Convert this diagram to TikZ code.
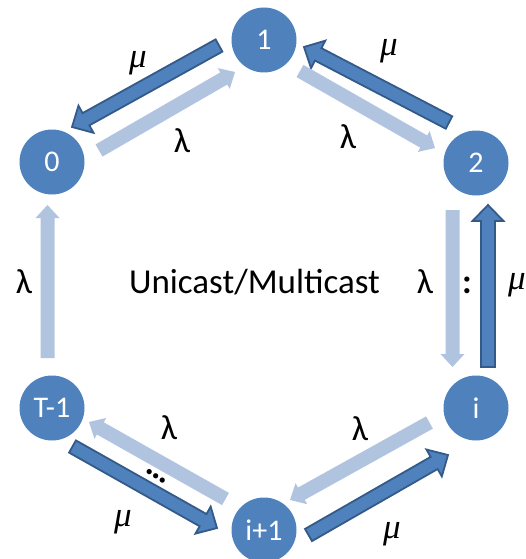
\documentclass[tikz,border=0pt]{standalone}
\usepackage{fontspec}
\setmainfont{Carlito}
\newfontfamily\muf{Liberation Serif}
\usetikzlibrary{calc}
\definecolor{nodeblue}{RGB}{79,129,189}
\definecolor{mudark}{RGB}{52,90,138}
\definecolor{lam}{RGB}{176,196,224}
% #1 style, #2 start, #3 end, #4 shaft half width, #5 head half width, #6 head length
\newcommand\blockarrow[6]{%
  \coordinate (ba-c) at ($(#3)!#6!(#2)$);
  \draw[#1] ($(#2)!#4!90:(#3)$) -- ($(ba-c)!#4!90:(#3)$) -- ($(ba-c)!#5!90:(#3)$) -- (#3)
    -- ($(ba-c)!#5!-90:(#3)$) -- ($(ba-c)!#4!-90:(#3)$) -- ($(#2)!#4!-90:(#3)$) -- cycle;
}
\newcommand\lamarr[2]{\blockarrow{lamarrow}{#1}{#2}{7pt}{12pt}{13pt}}
\newcommand\muarr[2]{\blockarrow{muarrow}{#1}{#2}{7pt}{15.5pt}{16pt}}
\begin{document}
\begin{tikzpicture}[x=1pt,y=1pt,
  state/.style={circle,fill=nodeblue,minimum size=65pt,inner sep=0pt,text=white,
    font=\fontsize{30}{32}\selectfont},
  lbl/.style={font=\fontsize{35}{40}\selectfont,inner sep=0pt,anchor=base},
  mul/.style={font=\muf\itshape\fontsize{35}{40}\selectfont,inner sep=0pt},
  lamarrow/.style={fill=lam,draw=none},
  muarrow/.style={fill=nodeblue,draw=mudark,line width=1.8pt,line join=miter}]
\useasboundingbox (0,0) rectangle (526,-559);

\node[state] (n1) at (264,-40) {1};
\node[state] (n0) at (52,-162) {0};
\node[state] (n2) at (476,-163) {2};
\node[state] (nT) at (52,-408) {T-1};
\node[state] (ni) at (476,-408) {i};
\node[state] (nip) at (264,-530) {i+1};

% arrow end points
\coordinate (a1s) at ($(n1)+(-45,-5.5)$);  \coordinate (a1e) at ($(n0)+(20,35)$);
\coordinate (a2s) at ($(n0)+(47,11.5)$);   \coordinate (a2e) at ($(n1)+(-29,-32)$);
\coordinate (a3s) at ($(n2)+(-27,40.5)$);  \coordinate (a3e) at ($(n1)+(40,-7)$);
\coordinate (a4s) at ($(n1)+(36,-31)$);    \coordinate (a4e) at ($(n2)+(-41,15)$);
\coordinate (a5s) at ($(n2)+(-23.5,-47)$); \coordinate (a5e) at ($(ni)+(-23.5,41)$);
\coordinate (a6s) at ($(ni)+(12,41)$);     \coordinate (a6e) at ($(n2)+(12,-42)$);
\coordinate (a7s) at ($(nT)+(-4.5,50)$);   \coordinate (a7e) at ($(n0)+(-4.5,-43)$);
\coordinate (a8s) at ($(ni)+(-46.5,-14.5)$); \coordinate (a8e) at ($(nip)+(26,30)$);
\coordinate (a9s) at ($(nip)+(44.5,-5)$);  \coordinate (a9e) at ($(ni)+(-28,-47)$);
\coordinate (a10s) at ($(nip)+(-38.5,31)$); \coordinate (a10e) at ($(nT)+(37,-14)$);
\coordinate (a11s) at ($(nT)+(20.5,-38.5)$); \coordinate (a11e) at ($(nip)+(-47,2)$);

\muarr{a1s}{a1e}
\lamarr{a2s}{a2e}
\muarr{a3s}{a3e}
\lamarr{a4s}{a4e}
\lamarr{a5s}{a5e}
\muarr{a6s}{a6e}
\lamarr{a7s}{a7e}
\lamarr{a8s}{a8e}
\muarr{a9s}{a9e}
\lamarr{a10s}{a10e}
\muarr{a11s}{a11e}

% labels
\node[mul] (m1) at (138,-63.5) {μ};
\node[lbl] (l1) at (182,-152) {λ};
\node[mul] (m2) at (389,-51.5) {μ};
\node[lbl] (l2) at (348,-148) {λ};
\node[lbl] (l3) at (24,-293) {λ};
\node[lbl] (title) at (254.5,-293) {Unicast/Multicast};
\node[lbl] (l4) at (425,-293) {λ};
\node[lbl] (vd) at (467,-293) {\bfseries :};
\node[mul] (m3) at (517,-285) {μ};
\node[lbl] (l5) at (169,-439) {λ};
\node[lbl] (l6) at (360,-440) {λ};
\node[mul] (m4) at (123,-522) {μ};
\node[mul] (m5) at (392,-534) {μ};
\node[font=\bfseries\fontsize{35}{40}\selectfont,inner sep=0pt,rotate=-33] (dd) at (156,-476) {…};
\end{tikzpicture}
\end{document}
